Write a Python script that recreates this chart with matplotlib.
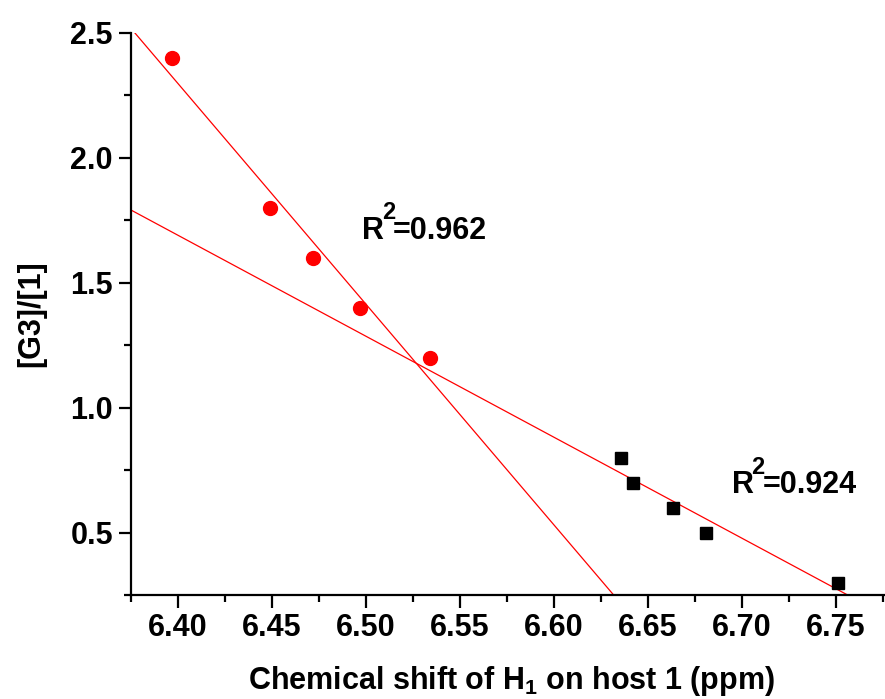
import numpy as np
import matplotlib
matplotlib.use('Agg')
import matplotlib.pyplot as plt
import matplotlib.ticker as ticker

# data
x_g3 = [6.397, 6.449, 6.472, 6.497, 6.534]
y_g3 = [2.4, 1.8, 1.6, 1.4, 1.2]
x_h1 = [6.6356, 6.6424, 6.6633, 6.681, 6.751]
y_h1 = [0.8, 0.7, 0.6, 0.5, 0.3]
r2_labels = ['0.962', '0.924']
r2_pos = [(6.4979, 1.675), (6.6947, 0.657)]

plt.rcParams['font.family'] = ['Liberation Sans', 'DejaVu Sans']
plt.rcParams['font.weight'] = 'bold'
plt.rcParams['mathtext.fontset'] = 'custom'
plt.rcParams['mathtext.rm'] = 'Liberation Sans:bold'
plt.rcParams['mathtext.it'] = 'Liberation Sans:bold'
plt.rcParams['mathtext.bf'] = 'Liberation Sans:bold'

fig = plt.figure(figsize=(8.85, 6.99), dpi=100)
ax = fig.add_axes([131/885, 104/699, 761/885, 562.5/699])

xlim = (6.375, 6.78)
ylim = (0.25, 2.5)

# linear fits
xx = np.linspace(xlim[0], xlim[1], 200)
p1 = np.polyfit(x_g3, y_g3, 1)
p2 = np.polyfit(x_h1, y_h1, 1)
ax.plot(xx, np.polyval(p1, xx), color='red', lw=0.9)
ax.plot(xx, np.polyval(p2, xx), color='red', lw=0.9)

ax.plot(x_g3, y_g3, 'o', color='red', ms=10, mec='red', clip_on=False)
ax.plot(x_h1, y_h1, 's', color='black', ms=8.5, clip_on=False)

# R^2 labels with a raised, larger superscript
for (px, py), lab in zip(r2_pos, r2_labels):
    t1 = ax.text(px, py, 'R', fontsize=22, fontweight='bold', va='baseline')
    t2 = ax.annotate('2', xy=(1, py), xycoords=(t1, 'data'), xytext=(-1.5, 14),
                     textcoords='offset points', fontsize=17, fontweight='bold', va='baseline')
    ax.annotate('=' + lab, xy=(1, py), xycoords=(t2, 'data'), xytext=(-1.5, 0),
                textcoords='offset points', fontsize=22, fontweight='bold', va='baseline')

ax.set_xlim(*xlim)
ax.set_ylim(*ylim)
ax.spines['top'].set_visible(False)
ax.spines['right'].set_visible(False)
for s in ['left', 'bottom']:
    ax.spines[s].set_linewidth(1.6)

ax.xaxis.set_major_locator(ticker.MultipleLocator(0.05))
ax.xaxis.set_minor_locator(ticker.MultipleLocator(0.025))
ax.yaxis.set_major_locator(ticker.MultipleLocator(0.5))
ax.yaxis.set_minor_locator(ticker.MultipleLocator(0.25))
ax.xaxis.set_major_formatter(ticker.FormatStrFormatter('%.2f'))
ax.yaxis.set_major_formatter(ticker.FormatStrFormatter('%.1f'))
ax.tick_params(which='major', direction='out', length=9, width=1.6, labelsize=22, pad=4)
ax.tick_params(which='minor', direction='out', length=5, width=1.6)
ax.set_yticks([0.5, 1.0, 1.5, 2.0, 2.5])
ax.set_xticks([6.40, 6.45, 6.50, 6.55, 6.60, 6.65, 6.70, 6.75])

ax.set_xlabel('Chemical shift of H$_{1}$ on host 1 (ppm)', fontsize=22, fontweight='bold', labelpad=15)
ax.set_ylabel('[G3]/[1]', fontsize=22, fontweight='bold', labelpad=17)

plt.savefig('out.png', dpi=100)
